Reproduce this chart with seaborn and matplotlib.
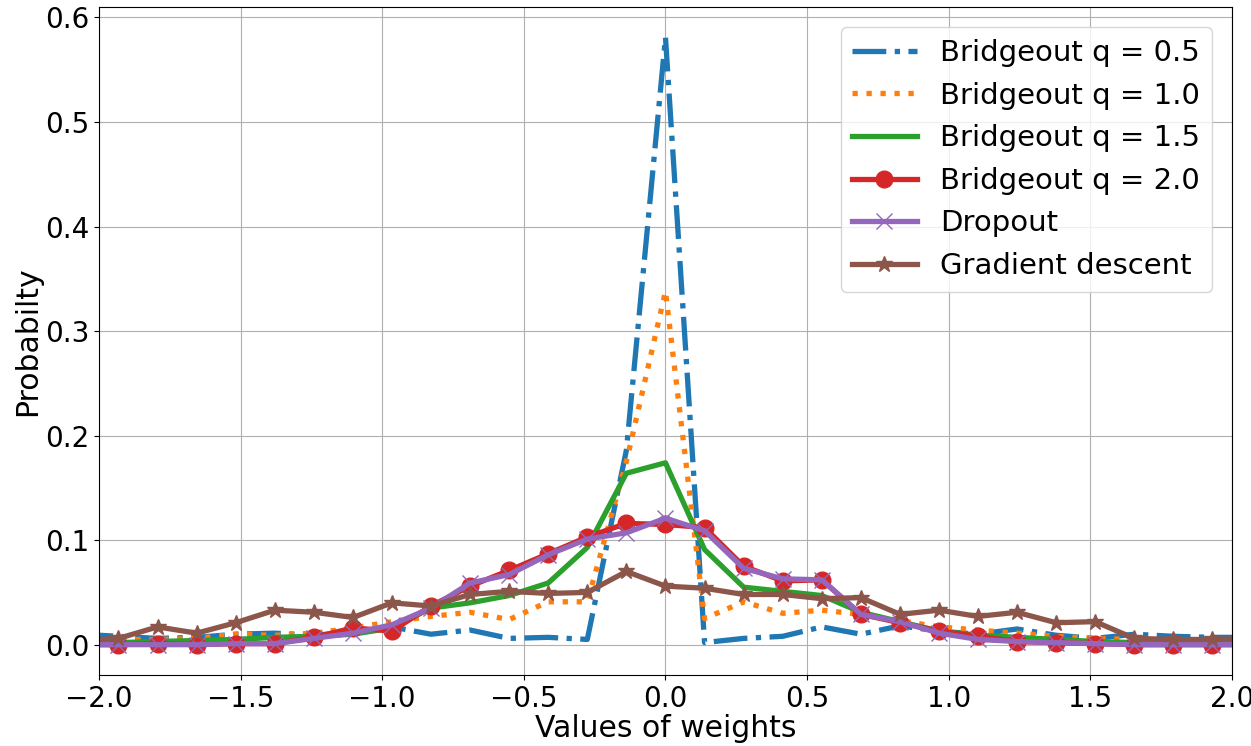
import matplotlib
matplotlib.use("Agg")
import matplotlib.pyplot as plt
import seaborn as sns

# bin centres of the weight histogram (outer two lie just outside the visible range)
x_vals = [-2.069, -1.931, -1.793, -1.655, -1.517, -1.379, -1.241, -1.103, -0.966,
          -0.828, -0.690, -0.552, -0.414, -0.276, -0.138, 0.0, 0.138, 0.276, 0.414,
          0.552, 0.690, 0.828, 0.966, 1.103, 1.241, 1.379, 1.517, 1.655, 1.793,
          1.931, 2.069]

bridge_q05 = [0.010, 0.008, 0.006, 0.007, 0.010, 0.011, 0.009, 0.012, 0.017, 0.010,
              0.014, 0.006, 0.007, 0.005, 0.186, 0.581, 0.002, 0.006, 0.008, 0.017,
              0.010, 0.018, 0.013, 0.010, 0.015, 0.009, 0.006, 0.010, 0.008, 0.007, 0.007]
bridge_q10 = [0.005, 0.005, 0.005, 0.006, 0.010, 0.009, 0.011, 0.016, 0.022, 0.027,
              0.031, 0.024, 0.041, 0.041, 0.175, 0.338, 0.025, 0.041, 0.030, 0.033,
              0.029, 0.023, 0.017, 0.014, 0.011, 0.008, 0.006, 0.005, 0.004, 0.004, 0.004]
bridge_q15 = [0.002, 0.002, 0.003, 0.004, 0.005, 0.007, 0.008, 0.010, 0.016, 0.035,
              0.040, 0.047, 0.059, 0.093, 0.164, 0.174, 0.091, 0.055, 0.051, 0.047,
              0.031, 0.022, 0.013, 0.009, 0.007, 0.005, 0.003, 0.002, 0.001, 0.001, 0.001]
bridge_q20 = [0.0, 0.0, 0.001, 0.0, 0.001, 0.001, 0.007, 0.016, 0.013, 0.037,
              0.056, 0.071, 0.087, 0.103, 0.116, 0.115, 0.112, 0.075, 0.061, 0.062,
              0.029, 0.021, 0.013, 0.008, 0.003, 0.002, 0.001, 0.0, 0.0, 0.0, 0.0]
dropout = [0.0, 0.0, 0.0, 0.0, 0.001, 0.001, 0.006, 0.011, 0.019, 0.035,
           0.059, 0.067, 0.086, 0.101, 0.107, 0.121, 0.109, 0.073, 0.063, 0.062,
           0.029, 0.022, 0.011, 0.005, 0.003, 0.002, 0.001, 0.0, 0.0, 0.0, 0.0]
grad_descent = [0.004, 0.006, 0.017, 0.011, 0.021, 0.033, 0.031, 0.026, 0.040, 0.037,
                0.048, 0.051, 0.049, 0.050, 0.070, 0.056, 0.054, 0.048, 0.048, 0.044,
                0.045, 0.029, 0.033, 0.027, 0.031, 0.021, 0.022, 0.006, 0.005, 0.005, 0.006]

labels = ["Bridgeout q = 0.5", "Bridgeout q = 1.0", "Bridgeout q = 1.5",
          "Bridgeout q = 2.0", "Dropout", "Gradient descent"]

fig = plt.figure(figsize=(12.51, 7.46), dpi=100)
ax = fig.add_axes([0.0791, 0.0952, 0.9057, 0.8954])

styles = [
    ("#1f77b4", "-.", None, 0),
    ("#ff7f0e", ":", None, 0),
    ("#2ca02c", "-", None, 0),
    ("#d62728", "-", "o", 12),
    ("#9467bd", "-", "x", 11),
    ("#8c564b", "-", "*", 12),
]
data = [bridge_q05, bridge_q10, bridge_q15, bridge_q20, dropout, grad_descent]

for y, lab, (col, ls, mk, ms) in zip(data, labels, styles):
    kw = dict(color=col, linestyle=ls, linewidth=3.8, label=lab)
    if mk is not None:
        kw.update(marker=mk, markersize=ms, markeredgecolor=col,
                  markerfacecolor=col, markeredgewidth=1.0)
    sns.lineplot(x=x_vals, y=y, ax=ax, estimator=None, sort=False, **kw)

ax.set_xlim(-2.0, 2.0)
ax.set_ylim(-0.029, 0.610)
ax.set_xticks([-2.0, -1.5, -1.0, -0.5, 0.0, 0.5, 1.0, 1.5, 2.0])
ax.set_yticks([0.0, 0.1, 0.2, 0.3, 0.4, 0.5, 0.6])
ax.grid(True, color="#b0b0b0", linewidth=0.8)
ax.set_axisbelow(True)
ax.tick_params(labelsize=20, direction="out", length=3.5)
ax.set_xlabel("Values of weights", fontsize=21.5, labelpad=1)
ax.set_ylabel("Probabilty", fontsize=21.5, labelpad=2)
for s in ax.spines.values():
    s.set_color("black")
    s.set_linewidth(0.8)

ax.legend(loc="upper right", fontsize=21, handlelength=2.2, framealpha=0.8,
          borderaxespad=0.7)

fig.savefig("out.png", dpi=100)
